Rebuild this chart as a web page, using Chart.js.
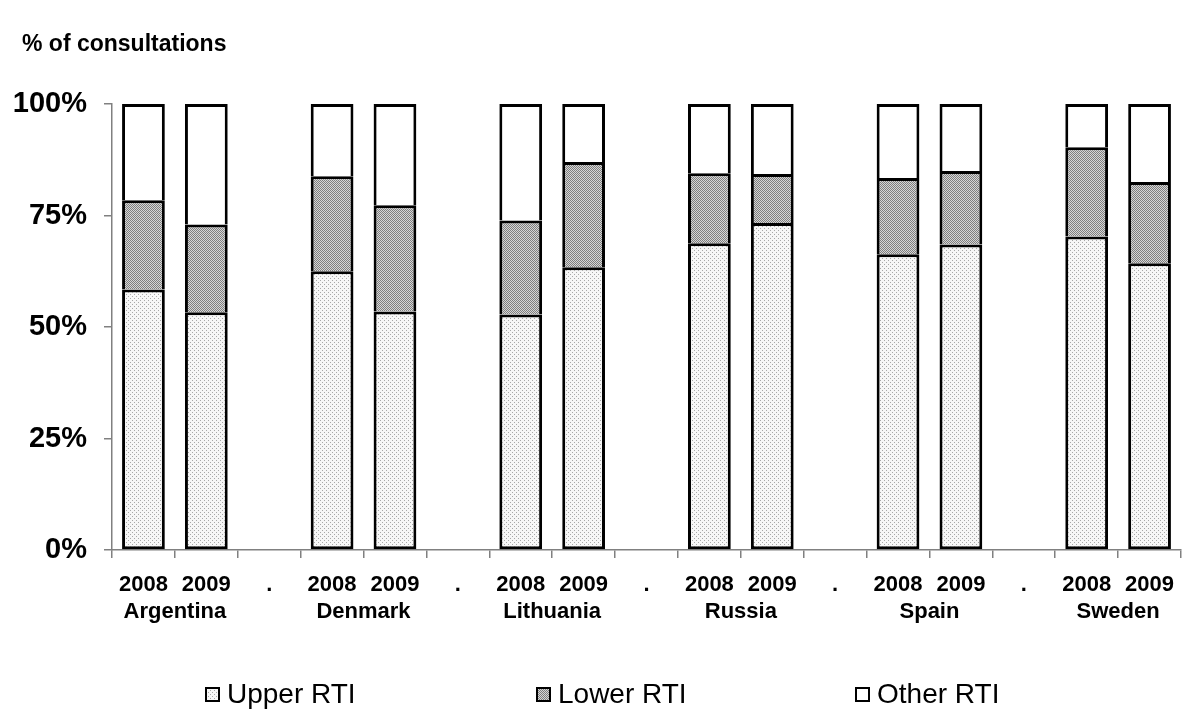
<!DOCTYPE html>
<html>
<head>
<meta charset="utf-8">
<script src="https://cdn.jsdelivr.net/npm/chart.js@4"></script>
<style>
  html, body { margin: 0; padding: 0; background: #fff; }
  #wrap { width: 1200px; height: 726px; }
</style>
</head>
<body>
<div id="wrap"><canvas id="rtiChart" width="1200" height="726"></canvas></div>
<script>
// tick labels along the x axis ("." = gap between countries)
var yearLabels = ['2008', '2009', '.', '2008', '2009', '.', '2008', '2009', '.',
                  '2008', '2009', '.', '2008', '2009', '.', '2008', '2009'];
var countries = ['Argentina', 'Denmark', 'Lithuania', 'Russia', 'Spain', 'Sweden'];

// % of consultations
var upperRTI = [58.4, 53.3, null, 62.5, 53.5, null, 52.8, 63.4, null, 68.8, 73.3, null, 66.3, 68.5, null, 70.3, 64.3];
var lowerRTI = [20.0, 19.7, null, 21.3, 23.8, null, 21.1, 23.6, null, 15.7, 11.0, null, 17.1, 16.5, null, 20.0, 18.2];
var otherRTI = [21.6, 27.0, null, 16.2, 22.7, null, 26.1, 13.0, null, 15.5, 15.7, null, 16.6, 15.0, null, 9.7, 17.5];
var yTicks = [0, 25, 50, 75, 100];
var axisTitle = '% of consultations';

function makePattern(size, base, dot, cells) {
    var c = document.createElement('canvas');
    c.width = size; c.height = size;
    var g = c.getContext('2d');
    g.fillStyle = base;
    g.fillRect(0, 0, size, size);
    g.fillStyle = dot;
    for (var i = 0; i < cells.length; i++) {
        g.fillRect(cells[i][0], cells[i][1], 1, 1);
    }
    return g.createPattern(c, 'repeat');
}

// light sparse dots for upper, dense grey checker for lower
var upperFill = makePattern(4, '#f7f7f7', '#a8a8a8', [[0, 0], [2, 2]]);
var lowerFill = makePattern(2, '#d6d6d6', '#7e7e7e', [[0, 0], [1, 1]]);
var otherFill = '#ffffff';

var FONT = '"Liberation Sans", Arial, sans-serif';

var extraText = {
    id: 'extraText',
    afterDraw: function(chart) {
        var ctx = chart.ctx;
        var xs = chart.scales.x;
        ctx.save();
        ctx.fillStyle = '#000';
        ctx.textBaseline = 'middle';

        // title top left
        ctx.font = 'bold 23px ' + FONT;
        ctx.textAlign = 'left';
        ctx.fillText(axisTitle, 22, 45);

        // country name under each pair of years
        ctx.font = 'bold 22px ' + FONT;
        ctx.textAlign = 'center';
        for (var i = 0; i < countries.length; i++) {
            var x = (xs.getPixelForValue(i * 3) + xs.getPixelForValue(i * 3 + 1)) / 2;
            ctx.fillText(countries[i], x, 612);
        }
        ctx.restore();
    }
};

// legend drawn by hand, the items are spread far apart
var wideLegend = {
    id: 'wideLegend',
    afterDraw: function(chart) {
        var ctx = chart.ctx;
        var itemX = [205, 536, 855];
        var y = 694;
        ctx.save();
        ctx.font = '28px ' + FONT;
        ctx.textBaseline = 'middle';
        ctx.textAlign = 'left';
        chart.data.datasets.forEach(function(ds, i) {
            ctx.fillStyle = ds.backgroundColor;
            ctx.fillRect(itemX[i], y - 7, 15, 15);
            ctx.lineWidth = 2;
            ctx.strokeStyle = '#000';
            ctx.strokeRect(itemX[i] + 1, y - 6, 13, 13);
            ctx.fillStyle = '#000';
            ctx.fillText(ds.label, itemX[i] + 22, y + 1);
        });
        ctx.restore();
    }
};

var ctx = document.getElementById('rtiChart').getContext('2d');
var rtiChart = new Chart(ctx, {
    type: 'bar',
    data: {
        labels: yearLabels,
        datasets: [{
            label: 'Upper RTI',
            data: upperRTI,
            backgroundColor: upperFill,
            borderColor: '#000',
            borderWidth: 3,
            borderSkipped: false
        }, {
            label: 'Lower RTI',
            data: lowerRTI,
            backgroundColor: lowerFill,
            borderColor: '#000',
            borderWidth: 3
        }, {
            label: 'Other RTI',
            data: otherRTI,
            backgroundColor: otherFill,
            borderColor: '#000',
            borderWidth: 3
        }]
    },
    options: {
        responsive: false,
        animation: false,
        barPercentage: 0.68,
        categoryPercentage: 1.0,
        layout: { padding: { left: 8, right: 19, top: 104, bottom: 0 } },
        plugins: {
            legend: { display: false },
            tooltip: { enabled: false },
            title: { display: false }
        },
        scales: {
            x: {
                stacked: true,
                afterFit: function(scale) { scale.height = 176; },
                grid: { display: true, drawOnChartArea: false, offset: true, tickLength: 8, color: '#808080', lineWidth: 1.5 },
                border: { color: '#808080', width: 1.5 },
                ticks: {
                    color: '#000',
                    padding: 14,
                    maxRotation: 0,
                    autoSkip: false,
                    font: { family: FONT, size: 22, weight: 'bold' }
                }
            },
            y: {
                stacked: true,
                min: 0,
                max: 100,
                afterFit: function(scale) { scale.width = 104; },
                afterBuildTicks: function(scale) {
                    scale.ticks = yTicks.map(function(v) { return { value: v }; });
                },
                grid: { display: true, drawOnChartArea: false, tickLength: 8, color: '#808080', lineWidth: 1.5 },
                border: { color: '#808080', width: 1.5 },
                ticks: {
                    color: '#000',
                    padding: 17,
                    font: { family: FONT, size: 29, weight: 'bold' },
                    callback: function(v) { return v + '%'; }
                }
            }
        }
    },
    plugins: [extraText, wideLegend]
});
</script>
</body>
</html>
